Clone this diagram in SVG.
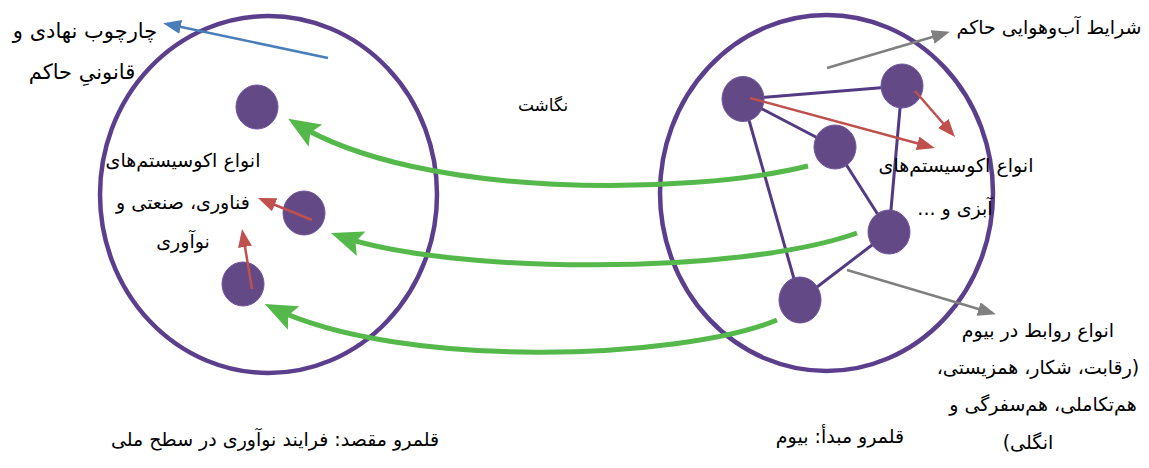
<svg xmlns="http://www.w3.org/2000/svg" width="1149" height="468" viewBox="0 0 1149 468">
  <style>
    .domain { fill: none; stroke: #5b3f8c; stroke-width: 4.5; }
    .node { fill: #634a87; stroke: #6f56a0; stroke-width: 1; }
    .link { stroke: #533a82; stroke-width: 3; fill: none; }
    .flow { fill: none; stroke: #55b84a; stroke-width: 5; }
    .red { stroke: #c0504d; stroke-width: 2.5; fill: none; }
    .gray { stroke: #808080; stroke-width: 2.5; fill: none; }
    .blue { stroke: #4a7ebb; stroke-width: 2.5; fill: none; }
    text { font-family: "DejaVu Sans", "Noto Sans", sans-serif; font-size: 19px; fill: #000; text-anchor: middle; direction: rtl; }
    .big { font-size: 21px; }
    .small { font-size: 17px; }
  </style>
  <defs>
    <marker id="head-green" markerUnits="userSpaceOnUse" viewBox="0 0 32 26" refX="24" refY="13" markerWidth="32" markerHeight="26" orient="auto">
      <path d="M0,0 L32,13 L0,26 L6,13 z" fill="#55b84a"/>
    </marker>
    <marker id="head-red" markerUnits="userSpaceOnUse" viewBox="0 0 18 14" refX="14" refY="7" markerWidth="18" markerHeight="14" orient="auto">
      <path d="M0,0 L18,7 L0,14 z" fill="#c0504d"/>
    </marker>
    <marker id="head-gray" markerUnits="userSpaceOnUse" viewBox="0 0 18 14" refX="14" refY="7" markerWidth="18" markerHeight="14" orient="auto">
      <path d="M0,0 L18,7 L0,14 z" fill="#808080"/>
    </marker>
    <marker id="head-blue" markerUnits="userSpaceOnUse" viewBox="0 0 18 14" refX="14" refY="7" markerWidth="18" markerHeight="14" orient="auto">
      <path d="M0,0 L18,7 L0,14 z" fill="#4a7ebb"/>
    </marker>
  </defs>

  <!-- target domain: national innovation process -->
  <g id="target-domain">
    <ellipse class="domain" cx="268.5" cy="194.5" rx="168.5" ry="178.5"/>
  </g>
  <!-- source domain: biome -->
  <g id="source-domain">
    <ellipse class="domain" cx="826.5" cy="193" rx="166.5" ry="178"/>
  </g>

  <!-- biome network links -->
  <g id="biome-links">
    <line class="link" x1="743" y1="99" x2="902" y2="86"/>
    <line class="link" x1="743" y1="99" x2="835" y2="147"/>
    <line class="link" x1="743" y1="99" x2="800" y2="300"/>
    <line class="link" x1="835" y1="147" x2="889" y2="232"/>
    <line class="link" x1="902" y1="86" x2="889" y2="232"/>
    <line class="link" x1="889" y1="232" x2="800" y2="300"/>
  </g>

  <!-- ecosystem nodes, target side -->
  <g id="t-node-1"><ellipse class="node" cx="257" cy="107" rx="21" ry="22"/></g>
  <g id="t-node-2"><ellipse class="node" cx="304" cy="213" rx="21" ry="22"/></g>
  <g id="t-node-3"><ellipse class="node" cx="243" cy="284" rx="21" ry="22"/></g>

  <!-- ecosystem nodes, biome side -->
  <g id="s-node-a"><ellipse class="node" cx="743" cy="99" rx="21" ry="22.5"/></g>
  <g id="s-node-b"><ellipse class="node" cx="902" cy="86" rx="21" ry="22"/></g>
  <g id="s-node-c"><ellipse class="node" cx="835" cy="147" rx="21" ry="22"/></g>
  <g id="s-node-d"><ellipse class="node" cx="889" cy="232" rx="21" ry="22"/></g>
  <g id="s-node-e"><ellipse class="node" cx="800" cy="300" rx="21" ry="23"/></g>

  <!-- connectors -->
  <g id="connectors">
    <!-- mapping flows from biome to innovation domain -->
    <path class="flow" d="M808,166 C690,195 420,200 295,123" marker-end="url(#head-green)"/>
    <path class="flow" d="M857,233 C740,275 450,275 338.5,235.7" marker-end="url(#head-green)"/>
    <path class="flow" d="M777,320 C680,360 400,370 272,307.5" marker-end="url(#head-green)"/>

    <!-- pointers to the ecosystem labels -->
    <line class="red" x1="312" y1="220" x2="261.7" y2="199.5" marker-end="url(#head-red)"/>
    <line class="red" x1="252" y1="289" x2="242.7" y2="233" marker-end="url(#head-red)"/>
    <line class="red" x1="750" y1="98" x2="931" y2="147" marker-end="url(#head-red)"/>
    <line class="red" x1="915" y1="91" x2="952.4" y2="134" marker-end="url(#head-red)"/>

    <!-- pointers to context labels -->
    <line class="gray" x1="827" y1="68" x2="946" y2="33" marker-end="url(#head-gray)"/>
    <line class="gray" x1="847" y1="270" x2="992" y2="313" marker-end="url(#head-gray)"/>
    <line class="blue" x1="328" y1="58" x2="167" y2="24" marker-end="url(#head-blue)"/>
  </g>

  <!-- labels -->
  <g id="labels">
    <text class="big" x="85" y="38">چارچوب نهادی و</text>
    <text class="big" x="82" y="79">قانونیِ حاکم</text>
    <text class="small" x="543" y="111">نگاشت</text>

    <text x="183" y="167">انواع اکوسیستم‌های</text>
    <text x="183" y="209">فناوری، صنعتی و</text>
    <text x="183" y="248">نوآوری</text>

    <text x="1049" y="34">شرایط آب‌وهوایی حاکم</text>
    <text x="956" y="172">انواع اکوسیستم‌های</text>
    <text x="955" y="215">آبزی و ...</text>

    <text x="1038" y="337">انواع روابط در بیوم</text>
    <text x="1038" y="374">(رقابت، شکار، همزیستی،</text>
    <text x="1043" y="411">هم‌تکاملی، هم‌سفرگی و</text>
    <text x="1028" y="449">انگلی)</text>

    <text x="275" y="446">قلمرو مقصد: فرایند نوآوری در سطح ملی</text>
    <text x="840" y="443">قلمرو مبدأ: بیوم</text>
  </g>
</svg>
